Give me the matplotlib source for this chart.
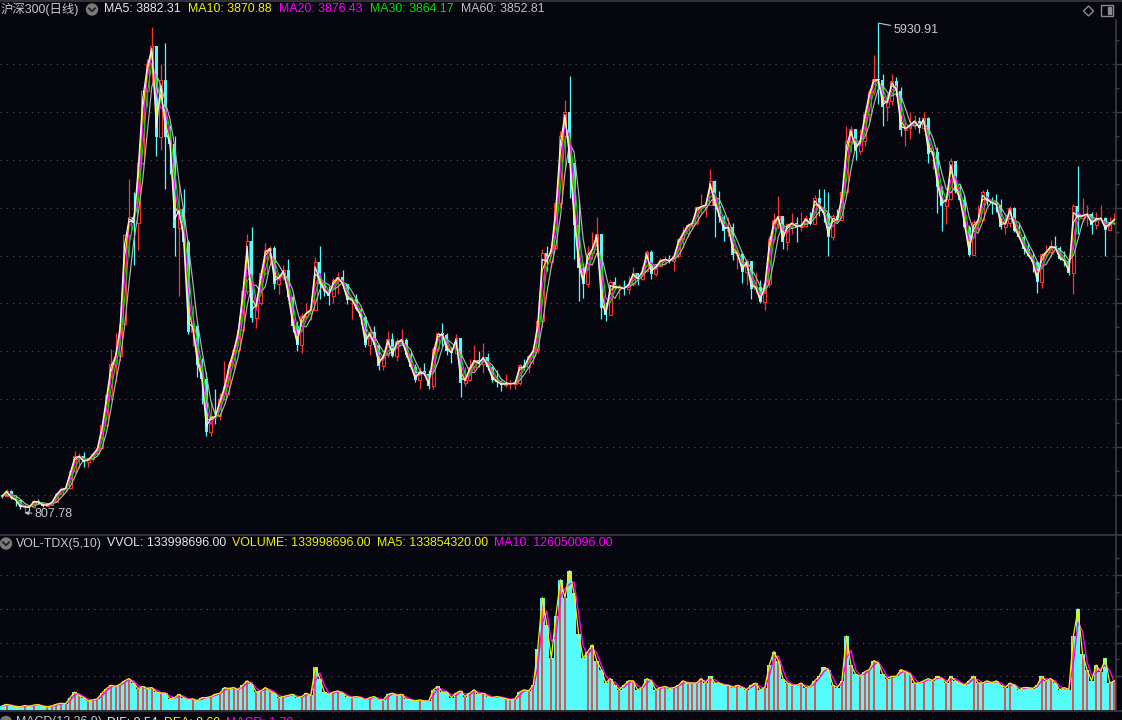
import numpy as np
import matplotlib
matplotlib.use('Agg')
import matplotlib.pyplot as plt
from matplotlib.patches import Circle, Polygon, Rectangle
from matplotlib.lines import Line2D
from matplotlib.transforms import IdentityTransform

plt.rcParams['font.family'] = ['Liberation Sans', 'Noto Sans CJK SC', 'DejaVu Sans']

# ---------------- data: CSI 300 monthly, 2005-01 .. 2025-06 ----------------
first_open = 1000.0

close = [
    983, 1040, 960, 940, 868, 873, 865, 935, 920, 885, 890, 923,            # 2005
    1010, 1056, 1066, 1243, 1398, 1400, 1338, 1367, 1424, 1484, 1722, 2041,  # 2006
    2367, 2454, 2781, 3710, 3903, 3839, 4472, 5218, 5501, 5688, 4740, 5338,  # 2007
    4740, 4670, 3790, 3990, 3640, 2700, 2760, 2350, 2210, 1650, 1820, 1817,  # 2008
    2000, 2140, 2370, 2510, 2720, 3130, 3650, 2850, 3000, 3320, 3560, 3575,  # 2009
    3200, 3280, 3346, 3070, 2760, 2560, 2870, 2900, 2935, 3430, 3200, 3128,  # 2010
    3080, 3240, 3270, 3200, 3030, 3045, 2940, 2860, 2560, 2700, 2560, 2345,  # 2011
    2460, 2630, 2450, 2610, 2620, 2460, 2330, 2200, 2290, 2260, 2140, 2520,  # 2012
    2690, 2670, 2500, 2480, 2640, 2170, 2200, 2330, 2410, 2370, 2440, 2330,  # 2013
    2200, 2180, 2150, 2160, 2160, 2165, 2350, 2330, 2450, 2510, 2810, 3530,  # 2014
    3430, 3580, 4050, 4750, 5000, 4470, 3820, 3370, 3200, 3530, 3570, 3730,  # 2015
    2950, 2880, 3220, 3160, 3170, 3150, 3200, 3320, 3250, 3340, 3540, 3310,  # 2016
    3390, 3450, 3460, 3440, 3490, 3670, 3740, 3820, 3840, 4010, 4010, 4030,  # 2017
    4280, 4020, 3900, 3760, 3800, 3510, 3520, 3330, 3440, 3150, 3170, 3010,  # 2018
    3200, 3670, 3870, 3910, 3640, 3830, 3840, 3800, 3810, 3890, 3830, 4100,  # 2019
    4000, 3940, 3690, 3910, 3870, 4160, 4700, 4820, 4590, 4700, 4980, 5210,  # 2020
    5350, 5340, 5050, 5120, 5330, 5220, 4810, 4830, 4870, 4910, 4830, 4940,  # 2021
    4560, 4580, 4220, 4020, 4090, 4490, 4170, 4080, 3800, 3510, 3850, 3870,  # 2022
    4160, 4070, 4050, 4030, 3800, 3840, 4000, 3760, 3690, 3570, 3500, 3430,  # 2023
    3220, 3520, 3540, 3600, 3580, 3460, 3440, 3320, 4020, 3890, 3920, 3935,  # 2024
    3820, 3890, 3890, 3770, 3840, 3882,                                      # 2025
]

high = [
    1000, 1060, 1045, 1000, 945, 900, 890, 945, 955, 925, 905, 930,
    1020, 1080, 1085, 1250, 1460, 1430, 1440, 1375, 1430, 1490, 1730, 2050,
    2520, 2690, 2800, 3730, 4300, 4160, 4500, 5230, 5560, 5891, 5540, 5500,
    5720, 4870, 4750, 4250, 4200, 3660, 2980, 2770, 2430, 2280, 1980, 2100,
    2060, 2400, 2400, 2560, 2730, 3150, 3720, 3803, 3050, 3350, 3630, 3600,
    3600, 3300, 3400, 3460, 3100, 2820, 2900, 3000, 2980, 3480, 3597, 3330,
    3180, 3260, 3330, 3350, 3200, 3070, 3100, 2940, 2800, 2760, 2760, 2560,
    2470, 2710, 2690, 2640, 2730, 2640, 2490, 2370, 2330, 2380, 2300, 2540,
    2700, 2790, 2690, 2540, 2680, 2620, 2330, 2420, 2560, 2500, 2590, 2480,
    2340, 2300, 2200, 2260, 2200, 2200, 2360, 2420, 2460, 2550, 2820, 3570,
    3600, 3620, 4100, 4800, 5130, 5380, 4400, 4080, 3420, 3600, 3750, 3900,
    3730, 3010, 3240, 3280, 3200, 3240, 3290, 3380, 3320, 3390, 3560, 3560,
    3400, 3470, 3500, 3510, 3510, 3670, 3800, 3840, 3870, 4020, 4140, 4080,
    4400, 4290, 4170, 3920, 3900, 3840, 3590, 3540, 3460, 3440, 3330, 3240,
    3220, 3700, 3940, 4127, 3870, 3840, 3940, 3900, 3950, 3920, 3960, 4130,
    4200, 4200, 4160, 3930, 3990, 4180, 4850, 4850, 4790, 4820, 5000, 5230,
    5600, 5930.91, 5400, 5200, 5400, 5370, 5260, 4930, 5000, 4970, 4950, 5000,
    4950, 4640, 4640, 4230, 4110, 4520, 4490, 4250, 4130, 3820, 3870, 4030,
    4190, 4200, 4110, 4140, 4090, 3920, 4020, 4010, 3830, 3720, 3640, 3540,
    3440, 3530, 3610, 3660, 3700, 3600, 3550, 3450, 4040, 4435, 4100, 4030,
    3960, 3950, 4030, 3900, 3900, 3940,
]

low = [
    960, 975, 955, 880, 850, 807.78, 830, 860, 905, 870, 875, 886,
    925, 1005, 1030, 1060, 1230, 1280, 1285, 1290, 1355, 1410, 1475, 1715,
    1990, 2180, 2400, 2790, 3480, 3400, 3560, 4450, 5050, 5300, 4540, 4600,
    4200, 4350, 3500, 3080, 3520, 2680, 2550, 2230, 1950, 1610, 1607, 1740,
    1780, 1990, 2040, 2320, 2500, 2700, 3100, 2800, 2740, 2980, 3300, 3400,
    3150, 3100, 3240, 3050, 2700, 2500, 2480, 2840, 2830, 2930, 3050, 3080,
    2980, 3000, 3100, 3160, 2990, 2840, 2930, 2780, 2540, 2460, 2550, 2300,
    2300, 2440, 2440, 2400, 2600, 2440, 2310, 2180, 2100, 2250, 2100, 2100,
    2500, 2550, 2460, 2380, 2480, 2020, 2130, 2190, 2300, 2330, 2270, 2300,
    2180, 2120, 2080, 2120, 2100, 2100, 2150, 2300, 2270, 2360, 2480, 2750,
    3340, 3380, 3580, 4000, 4400, 4100, 3460, 3020, 3060, 3170, 3460, 3500,
    2840, 2810, 2880, 3150, 3040, 3090, 3100, 3180, 3190, 3240, 3330, 3250,
    3290, 3380, 3400, 3420, 3340, 3470, 3580, 3690, 3780, 3820, 3940, 3900,
    4040, 3690, 3850, 3650, 3700, 3450, 3360, 3210, 3190, 3050, 3110, 3000,
    2935, 3170, 3640, 3780, 3570, 3560, 3730, 3640, 3760, 3800, 3820, 3840,
    3910, 3850, 3500, 3660, 3860, 3870, 4120, 4580, 4500, 4560, 4650, 4900,
    5180, 5080, 4850, 4910, 5070, 5170, 4750, 4650, 4720, 4820, 4780, 4800,
    4470, 4400, 3940, 3760, 3830, 4080, 4150, 4060, 3790, 3490, 3520, 3760,
    3870, 4030, 3930, 3960, 3780, 3730, 3800, 3750, 3680, 3520, 3490, 3330,
    3108, 3160, 3470, 3480, 3570, 3450, 3390, 3300, 3100, 3730, 3850, 3810,
    3730, 3780, 3870, 3500, 3800, 3820,
]

# volume (typical level of the month), millions of lots
volume = [
    18, 25, 20, 15, 14, 20, 16, 22, 24, 16, 14, 18,
    26, 30, 28, 55, 80, 65, 55, 40, 45, 50, 75, 95,
    110, 105, 115, 130, 140, 120, 95, 105, 95, 100, 80, 75,
    75, 50, 55, 70, 55, 45, 50, 40, 55, 55, 60, 70,
    75, 100, 95, 100, 90, 110, 130, 115, 80, 85, 100, 85,
    75, 55, 60, 65, 70, 55, 60, 75, 65, 190, 140, 80,
    70, 80, 85, 75, 60, 55, 60, 55, 45, 55, 60, 45,
    45, 70, 75, 65, 70, 50, 45, 40, 45, 40, 40, 90,
    105, 80, 80, 55, 75, 85, 60, 75, 90, 70, 75, 60,
    55, 60, 55, 50, 45, 50, 80, 90, 85, 110, 270, 500,
    380, 230, 420, 580, 500, 620, 520, 340, 230, 260, 290, 220,
    180, 120, 140, 110, 90, 110, 130, 130, 90, 100, 140, 130,
    90, 100, 105, 95, 100, 110, 130, 120, 120, 120, 140, 120,
    150, 120, 120, 110, 110, 100, 110, 100, 90, 110, 120, 90,
    100, 200, 260, 220, 140, 120, 110, 110, 120, 100, 105, 130,
    150, 190, 180, 110, 100, 130, 330, 200, 160, 150, 170, 180,
    220, 210, 160, 140, 150, 150, 180, 170, 160, 120, 120, 130,
    140, 130, 150, 140, 120, 150, 130, 120, 110, 130, 150, 120,
    120, 130, 120, 130, 110, 100, 120, 110, 90, 100, 100, 95,
    110, 150, 130, 140, 120, 90, 100, 90, 330, 450, 250, 180,
    130, 200, 170, 230, 120, 130,
]

price_grid = [1000, 1500, 2000, 2500, 3000, 3500, 4000, 4500, 5000, 5500]
vol_grid = [150, 300, 450, 600]

header_ma = [("MA5: 3882.31", '#e8e8e8'), ("MA10: 3870.88", '#f2f200'),
             ("MA20: 3876.43", '#ff00ff'), ("MA30: 3864.17", '#00e000'),
             ("MA60: 3852.81", '#c0c0c0')]
header_vol = [("VVOL: 133998696.00", '#e8e8e8'), ("VOLUME: 133998696.00", '#f2f200'),
              ("MA5: 133854320.00", '#f2f200'), ("MA10: 126050096.00", '#ff00ff')]
header_macd = [("DIF: 9.54", '#e8e8e8'), ("DEA: 8.69", '#f2f200'), ("MACD: 1.70", '#ff00ff')]

# ---------------- styling ----------------
BG = '#06060f'
RED = '#ff3232'
CYAN = '#54fcfc'
GRID = '#4a4a4a'
AXC = '#3c3c44'
W, H = 1122, 720
PX = 4.54          # pixels per month
X0 = 2.0           # pixel of first candle

c = np.array(close, float)
hi = np.array(high, float)
lo = np.array(low, float)
v = np.array(volume, float)
n = len(c)
x = np.arange(n)
o = np.r_[first_open, c[:-1]]
hi = np.maximum(hi, np.maximum(o, c))
lo = np.minimum(lo, np.minimum(o, c))
up = c >= o

def prev(a, k):
    return np.r_[np.repeat(a[0], k), a[:-k]]

c1, c2, c3 = prev(c, 1), prev(c, 2), prev(c, 3)
ma5 = 0.9 * c + 0.1 * c1
ma10 = 0.75 * c + 0.25 * c1
ma20 = 0.5 * (c + c1)
ma30 = (0.5 * c + 0.75 * c1 + 0.25 * c2) / 1.5
ma60 = (0.5 * c + c1 + c2 + 0.5 * c3) / 3.0
vma5 = v
vma10 = 0.5 * (v + prev(v, 1))

fig = plt.figure(figsize=(W / 100, H / 100), dpi=100, facecolor=BG)

def fy(py):
    return 1 - py / H

xl = (-X0 / PX, (1116 - X0) / PX)
ax = fig.add_axes([0, fy(535), 1116 / W, (535 - 20) / H], facecolor=BG)
axv = fig.add_axes([0, fy(710), 1116 / W, (710 - 535) / H], facecolor=BG)

# price scale: 5500 at y=64.3px, 10.46 points per px
pp = 10.46
ax.set_ylim(5500 - (535 - 64.3) * pp, 5500 + (64.3 - 20) * pp)
axv.set_ylim(0, 175 * (150 / 33.7))
for a in (ax, axv):
    a.set_xlim(*xl)
    for s in ('top', 'left', 'bottom'):
        a.spines[s].set_visible(False)
    a.spines['right'].set_color(AXC)
    a.spines['right'].set_linewidth(1.2)
    a.yaxis.tick_right()
    a.set_xticks([])
    a.tick_params(axis='y', which='both', colors=AXC, labelright=False, direction='out')
    a.tick_params(axis='y', which='major', length=4.5, width=1)
    a.tick_params(axis='y', which='minor', length=2, width=1)

ax.set_yticks(price_grid)
ax.set_yticks([g + 250 for g in price_grid], minor=True)
axv.set_yticks(vol_grid)
axv.set_yticks([g + 75 for g in vol_grid], minor=True)

for g in price_grid:
    ax.axhline(g, color=GRID, lw=0.9, ls=(0, (1, 4)), zorder=0)
for g in vol_grid:
    axv.axhline(g, color=GRID, lw=0.9, ls=(0, (1, 4)), zorder=0)

# candles
wick_col = np.where(up, RED, CYAN)
ax.vlines(x, lo, hi, colors=wick_col, lw=0.9, zorder=2)
ax.bar(x[up], (c - o)[up], bottom=o[up], width=0.66, facecolor=BG,
       edgecolor=RED, linewidth=0.8, zorder=3)
ax.bar(x[~up], (c - o)[~up], bottom=o[~up], width=0.66, color=CYAN,
       linewidth=0, zorder=3)

# moving averages
for m, col in ((ma60, '#b4b4b4'), (ma30, '#00e000'), (ma20, '#ff00ff'),
               (ma10, '#f2f200'), (ma5, '#f0f0f0')):
    ax.plot(x, m, color=col, lw=0.85, zorder=4)

# extremes
imax = int(np.argmax(hi))
imin = int(np.argmin(lo))
ax.annotate(f"{hi[imax]:.2f}", xy=(imax, hi[imax]), xytext=(15, -7),
            textcoords='offset pixels', color='#c8c8c8', fontsize=9, va='center',
            arrowprops=dict(arrowstyle='-', color='#c8c8c8', lw=0.8,
                            shrinkA=0, shrinkB=0), zorder=6)
ax.annotate(f"{lo[imin]:.2f}", xy=(imin, lo[imin]), xytext=(10, -1),
            textcoords='offset pixels', color='#c8c8c8', fontsize=9, va='center',
            arrowprops=dict(arrowstyle='-|>', color='#c8c8c8', lw=0.8,
                            mutation_scale=5, shrinkA=0, shrinkB=0), zorder=6)

# volume
axv.bar(x, v, width=1.0, color=CYAN, linewidth=0, zorder=2)
axv.vlines(x[up], 0, v[up], colors=RED, lw=1.2, zorder=3)
axv.plot(x, vma10, color='#ff00ff', lw=1.0, zorder=4)
axv.plot(x, vma5, color='#f2f200', lw=0.9, zorder=5)

# ---------------- frame lines & headers ----------------
I = IdentityTransform()
def hline(py, col='#3a3a42', lw=1.2):
    fig.add_artist(Line2D([0, W], [H - py, H - py], transform=I, color=col, lw=lw))
hline(1)
hline(535)
hline(711)

def txt(px, py, s, col, size=8.95):
    return fig.text(px, H - py, s, color=col, fontsize=size, ha='left', va='center',
                    transform=I)

def icon(px, py):
    fig.add_artist(Circle((px, H - py), 5.5, transform=I, color='#7a7a7a'))
    fig.add_artist(Line2D([px - 3, px, px + 3], [H - py + 1.2, H - py - 1.8, H - py + 1.2],
                          transform=I, color='#202020', lw=1.3))

r = fig.canvas.get_renderer()
def row(px, py, items, gap=6):
    for s, col in items:
        t = txt(px, py, s, col)
        bb = t.get_window_extent(renderer=r)
        px = bb.x1 + gap

txt(1, 9.5, "沪深300(日线)", '#c8c8c8')
icon(92, 9.5)
row(103.5, 9.5, header_ma, gap=7.5)

icon(6, 543.5)
txt(16, 543.5, "VOL-TDX(5,10)", '#c8c8c8')
row(107, 543.5, header_vol)

icon(6, 722)
txt(16, 722.5, "MACD(12,26,9)", '#c8c8c8')
row(107, 722.5, header_macd)

# top-right icons
cx, cy = 1088.5, H - 11
fig.add_artist(Polygon([(cx, cy + 5), (cx + 5, cy), (cx, cy - 5), (cx - 5, cy)],
                       closed=True, fill=False, ec='#8a8a8a', lw=1, transform=I))
fig.add_artist(Rectangle((1101, H - 16), 12, 11, fill=False, ec='#8a8a8a', lw=1, transform=I))
fig.add_artist(Rectangle((1108, H - 14), 3, 7, color='#8a8a8a', transform=I))

fig.savefig('out.png', dpi=100, facecolor=BG)
